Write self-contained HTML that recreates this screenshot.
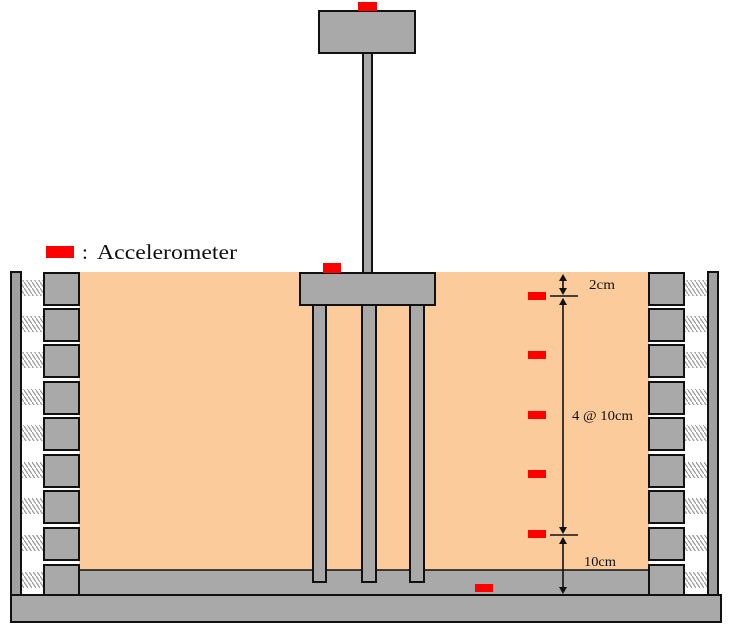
<!DOCTYPE html>
<html><head><meta charset="utf-8"><style>html,body{margin:0;padding:0;background:#fff}svg{display:block}</style></head>
<body>
<svg width="730" height="631" viewBox="0 0 730 631" xmlns="http://www.w3.org/2000/svg" font-family="Liberation Serif, serif">
<defs>
<pattern id="spr" width="4" height="6" patternUnits="userSpaceOnUse">
<path d="M0 0 L4 6" stroke="#999" stroke-width="1.2"/>
</pattern>
<g id="blk"><rect x="0" y="0" width="35" height="32" fill="#a9a9a9" stroke="#111" stroke-width="2"/></g>
</defs>
<rect x="79" y="272" width="570" height="298" fill="#fccb9c"/>
<rect x="79" y="570" width="570" height="25" fill="#a9a9a9" stroke="#111" stroke-width="1.5"/>
<rect x="11" y="595" width="710" height="27" fill="#a9a9a9" stroke="#111" stroke-width="2"/>
<rect x="11" y="272" width="10" height="323" fill="#a0a0a0" stroke="#111" stroke-width="2"/>
<rect x="708" y="272" width="10" height="323" fill="#a0a0a0" stroke="#111" stroke-width="2"/>
<g fill="url(#spr)">
<rect x="22" y="280" width="21" height="16"/><rect x="22" y="316" width="21" height="16"/><rect x="22" y="352" width="21" height="16"/><rect x="22" y="389" width="21" height="16"/><rect x="22" y="425" width="21" height="16"/><rect x="22" y="462" width="21" height="16"/><rect x="22" y="498" width="21" height="16"/><rect x="22" y="535" width="21" height="16"/><rect x="22" y="572" width="21" height="16"/>
<rect x="685" y="280" width="22" height="16"/><rect x="685" y="316" width="22" height="16"/><rect x="685" y="352" width="22" height="16"/><rect x="685" y="389" width="22" height="16"/><rect x="685" y="425" width="22" height="16"/><rect x="685" y="462" width="22" height="16"/><rect x="685" y="498" width="22" height="16"/><rect x="685" y="535" width="22" height="16"/><rect x="685" y="572" width="22" height="16"/>
</g>
<use href="#blk" x="44" y="273"/><use href="#blk" x="44" y="309"/><use href="#blk" x="44" y="345"/><use href="#blk" x="44" y="382"/><use href="#blk" x="44" y="418"/><use href="#blk" x="44" y="455"/><use href="#blk" x="44" y="491"/><use href="#blk" x="44" y="528"/>
<rect x="44" y="565" width="35" height="30" fill="#a9a9a9" stroke="#111" stroke-width="2"/>
<use href="#blk" x="649" y="273"/><use href="#blk" x="649" y="309"/><use href="#blk" x="649" y="345"/><use href="#blk" x="649" y="382"/><use href="#blk" x="649" y="418"/><use href="#blk" x="649" y="455"/><use href="#blk" x="649" y="491"/><use href="#blk" x="649" y="528"/>
<rect x="649" y="565" width="35" height="30" fill="#a9a9a9" stroke="#111" stroke-width="2"/>
<g fill="#a9a9a9" stroke="#111" stroke-width="2">
<rect x="313" y="300" width="13" height="282"/>
<rect x="362" y="300" width="14" height="282"/>
<rect x="410" y="300" width="14" height="282"/>
<rect x="300" y="273" width="135" height="32"/>
<rect x="363" y="50" width="9" height="223"/>
<rect x="319" y="11" width="96" height="42"/>
</g>
<g fill="#f00">
<rect x="358" y="2" width="19" height="9"/>
<rect x="323" y="263" width="18" height="10"/>
<rect x="46" y="246" width="28" height="12"/>
<rect x="528" y="292" width="18" height="8"/>
<rect x="528" y="351" width="18" height="8"/>
<rect x="528" y="411" width="18" height="8"/>
<rect x="528" y="470" width="18" height="8"/>
<rect x="528" y="530" width="18" height="8"/>
<rect x="475" y="584" width="18" height="8"/>
</g>
<text x="82" y="259" font-size="21" fill="#111">:</text>
<text x="97" y="259" font-size="21" textLength="140" lengthAdjust="spacingAndGlyphs" fill="#111">Accelerometer</text>
<g stroke="#111" stroke-width="1.6" fill="none">
<line x1="550" y1="296" x2="578" y2="296"/>
<line x1="550" y1="535" x2="578" y2="535"/>
<line x1="563" y1="276" x2="563" y2="293"/>
<line x1="563" y1="299" x2="563" y2="532"/>
<line x1="563" y1="538" x2="563" y2="592"/>
</g>
<g fill="#111">
<path d="M559 281 L563 274 L567 281Z"/><path d="M559 288 L563 295 L567 288Z"/>
<path d="M559 305 L563 298 L567 305Z"/><path d="M559 527 L563 534 L567 527Z"/>
<path d="M559 544 L563 537 L567 544Z"/><path d="M559 587 L563 594 L567 587Z"/>
</g>
<g font-size="14" fill="#111" font-weight="bold" stroke="none">
<text x="589" y="289" textLength="26" lengthAdjust="spacingAndGlyphs" font-weight="normal">2cm</text>
<text x="572" y="420" textLength="61" lengthAdjust="spacingAndGlyphs" font-weight="normal">4 @ 10cm</text>
<text x="584" y="566" textLength="32" lengthAdjust="spacingAndGlyphs" font-weight="normal">10cm</text>
</g>
</svg>
</body></html>
